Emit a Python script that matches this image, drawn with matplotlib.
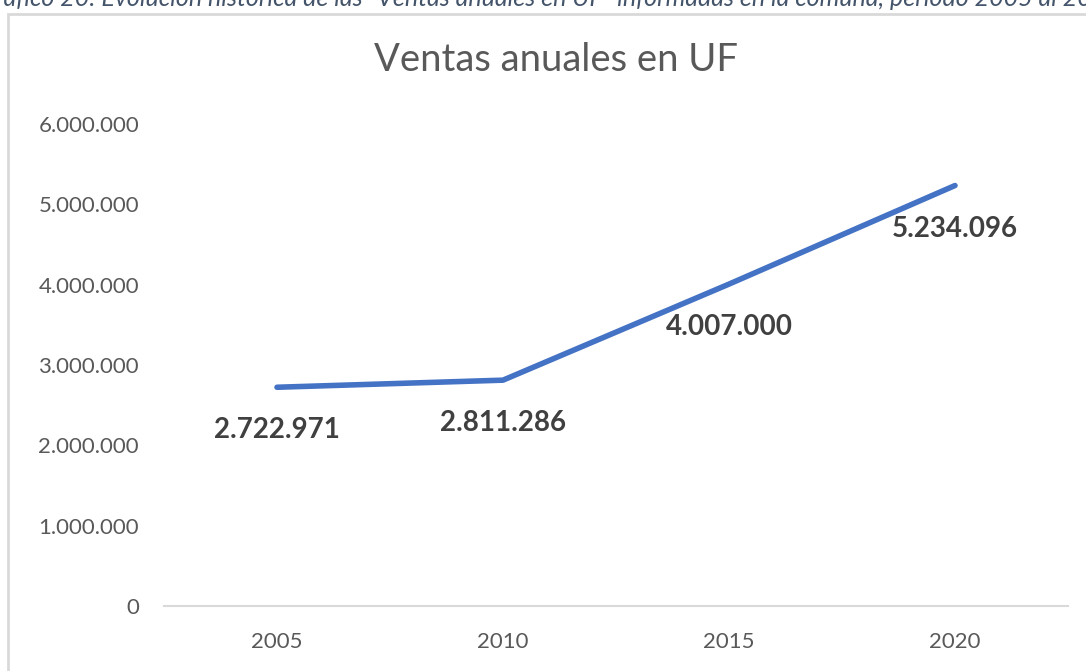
import matplotlib.pyplot as plt
from matplotlib.patches import Rectangle

years = ['2005', '2010', '2015', '2020']
ventas = [2722971, 2811286, 4007000, 5234096]
ytick_vals = [0, 1000000, 2000000, 3000000, 4000000, 5000000, 6000000]

plt.rcParams['font.family'] = ['Lato', 'DejaVu Sans']

def miles(v):
    return f"{v:,.0f}".replace(',', '.')

W, H = 1086, 671
fig = plt.figure(figsize=(W / 100, H / 100), dpi=100)

# caption cut off at the top of the screenshot
fig.text(-22 / W, 1 + 2 / H,
         'Gráfico 20: Evolución histórica de las “Ventas anuales en UF” informadas en la comuna, período 2005 al 2020',
         fontsize=18, style='italic', color='#44546A', va='center', ha='left')

# chart area frame
fig.patches.append(Rectangle((8 / W, -0.1), 1.2, 1 - 14 / H + 0.1, transform=fig.transFigure,
                             fill=False, edgecolor='#d9d9d9', linewidth=2))

ax = fig.add_axes([164 / W, 1 - 606 / H, (1068 - 164) / W, (606 - 124) / H])
x = range(len(years))
ax.plot(x, ventas, color='#4472C4', linewidth=4, solid_capstyle='round')

for xi, v in zip(x, ventas):
    ax.annotate(miles(v), (xi, v), textcoords='offset points', xytext=(0, -31),
                ha='center', va='center', fontsize=20, fontweight='bold', color='#404040')

ax.set_xlim(-0.5, 3.5)
ax.set_ylim(0, 6000000)
ax.set_xticks(list(x))
ax.set_xticklabels(years)
ax.set_yticks(ytick_vals)
ax.set_yticklabels([miles(v) for v in ytick_vals])
ax.tick_params(length=0, labelsize=16, colors='#595959')
ax.tick_params(axis='y', pad=18)
ax.tick_params(axis='x', pad=19)
for s in ['top', 'right', 'left']:
    ax.spines[s].set_visible(False)
ax.spines['bottom'].set_color('#d9d9d9')
ax.spines['bottom'].set_linewidth(1.5)

fig.text(556 / W, 1 - 60 / H, 'Ventas anuales en UF', fontsize=27.5, color='#595959',
         ha='center', va='center')

fig.savefig('out.png', dpi=100)
